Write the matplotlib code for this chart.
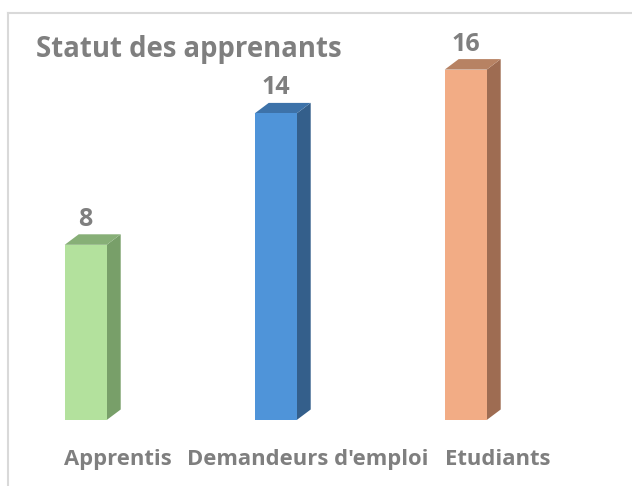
import matplotlib.pyplot as plt
from matplotlib.patches import Polygon
from matplotlib.lines import Line2D

plt.rcParams['font.family'] = ['Open Sans', 'DejaVu Sans']

# data
categories = ['Apprentis', "Demandeurs d'emploi", 'Etudiants']
values = [8, 14, 16]
front_colors = ['#b3e19d', '#4f94d9', '#f2ac85']
side_colors = ['#789f69', '#345f8b', '#9e6c52']
top_colors = ['#87af77', '#3d72a9', '#b78263']

W, H = 632, 486
fig = plt.figure(figsize=(W / 100, H / 100), dpi=100)
ax = fig.add_axes([0, 0, 1, 1])

# pixel scale: 190 px per category, 21.9 px per unit, baseline at y=420
px_x = 190.0
px_y = 21.9
x0 = 85.7
base = 420
ax.set_xlim(-x0 / px_x, (W - x0) / px_x)
ax.set_ylim(-(H - base) / px_y, base / px_y)
ax.axis('off')

bw = 42 / px_x       # front width
dx = 14 / px_x       # depth offset
dy = 10.5 / px_y
txt = '#7f7f7f'

for i, (cat, v) in enumerate(zip(categories, values)):
    l, r = i - bw / 2, i + bw / 2
    front = Polygon([(l, 0), (r, 0), (r, v), (l, v)], closed=True,
                    facecolor=front_colors[i], edgecolor='none')
    side = Polygon([(r, 0), (r + dx, dy), (r + dx, v + dy), (r, v)], closed=True,
                   facecolor=side_colors[i], edgecolor='none')
    top = Polygon([(l, v), (r, v), (r + dx, v + dy), (l + dx, v + dy)], closed=True,
                  facecolor=top_colors[i], edgecolor='none')
    for p in (side, top, front):
        ax.add_patch(p)
    ax.annotate(str(v), (i, v), xytext=(0, 19), textcoords='offset pixels',
                ha='center', va='baseline', fontsize=18, fontweight='bold', color=txt)
    ax.text(i + 32 / px_x, -45 / px_y, cat, ha='center', va='baseline',
            fontsize=15.8, fontweight='bold', color=txt)

fig.text(36 / W, 1 - 56.5 / H, 'Statut des apprenants', ha='left', va='baseline',
         fontsize=19.8, fontweight='bold', color=txt)

# chart border (top and left visible)
fig.add_artist(Line2D([8 / W, 1], [1 - 13 / H, 1 - 13 / H], color='#d9d9d9', lw=1.5))
fig.add_artist(Line2D([8 / W, 8 / W], [1 - 13 / H, 0], color='#d9d9d9', lw=1.5))

fig.savefig('out.png', dpi=100)
